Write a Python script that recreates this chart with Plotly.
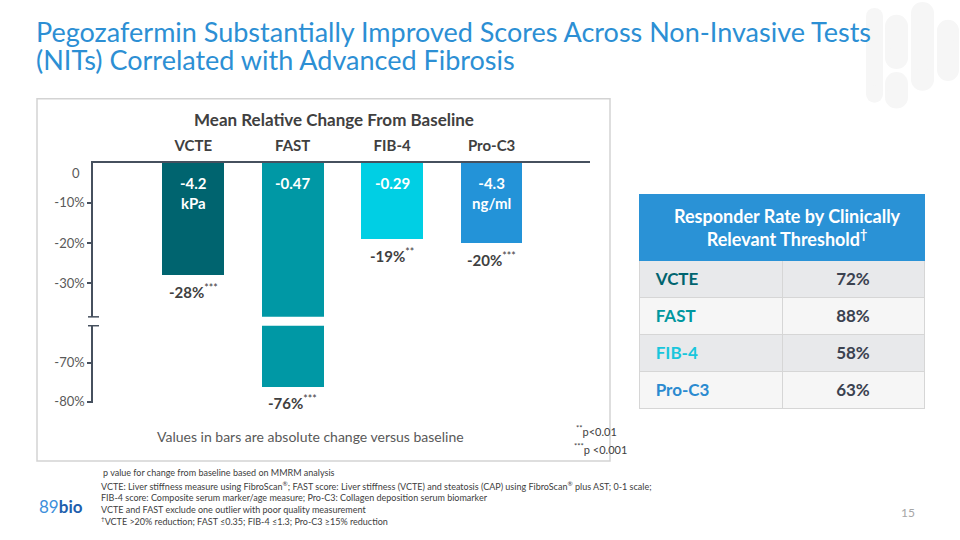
import plotly.graph_objects as go

# ---------------- data ----------------
categories = ["VCTE", "FAST", "FIB-4", "Pro-C3"]
rel_change = [-28, -76, -19, -20]          # mean relative change from baseline (%)
significance = ["***", "***", "**", "***"]
abs_change = ["-4.2<br>kPa", "-0.47", "-0.29", "-4.3<br>ng/ml"]
upper_ticks = [-10, -20, -30]
upper_tick_text = ["-10%", "-20%", "-30%"]
lower_ticks = [-70, -80]
lower_tick_text = ["-70%", "-80%"]
responder_tests = ["VCTE", "FAST", "FIB-4", "Pro-C3"]
responder_rates = ["72%", "88%", "58%", "63%"]

# ---------------- style ----------------
W, H = 960, 540
FONT = "Lato"
bar_colors = ["#00646F", "#0098A5", "#00CFE4", "#2393D8"]
label_colors = ["#00646F", "#00979F", "#19C6DC", "#2A8AD0"]
title_blue = "#2C8FD4"
hdr_blue = "#2A92D6"
axis_col = "#46505E"
text_dark = "#404040"


def px(x):
    return x / W


def py(y):
    return 1 - y / H


UP_RANGE = [-38.45, 0]
LO_RANGE = [-80.2, -60.5]

fig = go.Figure()
for yax in ["y", "y2"]:
    fig.add_trace(go.Bar(
        x=categories, y=rel_change, xaxis="x", yaxis=yax,
        marker=dict(color=bar_colors, line=dict(width=0)),
        width=0.62, hoverinfo="skip", showlegend=False,
    ))

# ---------------- table ----------------
row_fills = ["#E8E9EB", "#F6F6F6", "#E8E9EB", "#F6F6F6"]
fig.add_trace(go.Table(
    domain=dict(x=[px(639), px(924)], y=[py(470), py(197)]),
    columnwidth=[143, 142],
    header=dict(values=["", ""], fill_color=hdr_blue,
                line=dict(color=hdr_blue, width=1), height=66),
    cells=dict(
        values=[["\u00a0\u00a0<b>" + t + "</b>" for t in responder_tests],
                ["<b>" + r + "</b>" for r in responder_rates]],
        fill=dict(color=[row_fills, row_fills]),
        line=dict(color="#D6D6D6", width=1),
        align=["left", "center"],
        font=dict(family=FONT, size=17,
                  color=[label_colors, ["#3B4250"] * 4]),
        height=32,
    ),
))

annotations = []
shapes = []


def note(x, y, text, size, color, xanchor="center", **kw):
    d = dict(x=px(x), y=py(y), xref="paper", yref="paper", text=text,
             showarrow=False, xanchor=xanchor, yanchor="middle",
             font=dict(family=FONT, size=size, color=color))
    d.update(kw)
    return d


# header text
annotations.append(note(787, 230,
                        "<b>Responder Rate by Clinically<br>Relevant Threshold<sup>†</sup></b>",
                        18, "white"))

# in-bar absolute change values
for c, t in zip(categories, abs_change):
    annotations.append(dict(
        x=c, y=0, xref="x", yref="y", text="<b>" + t + "</b>",
        showarrow=False, xanchor="center", yanchor="top", yshift=-9,
        font=dict(family=FONT, size=15, color="white")))

# percent labels below bars
for c, v, s in zip(categories, rel_change, significance):
    yref = "y" if v >= UP_RANGE[0] else "y2"
    annotations.append(dict(
        x=c, y=v, xref="x", yref=yref,
        text="<b>%d%%</b><sup>%s</sup>" % (v, s),
        showarrow=False, xanchor="center", yanchor="top", yshift=-5,
        font=dict(family=FONT, size=15, color=text_dark)))

# zero label (drawn slightly below axis line as in reference)
annotations.append(dict(
    x=px(82), y=0, xref="paper", yref="y", text="0", showarrow=False,
    xanchor="right", yanchor="middle", yshift=-10,
    font=dict(family=FONT, size=13, color="#595959")))

# chart texts
annotations += [
    note(334, 121, "<b>Mean Relative Change From Baseline</b>", 17, text_dark),
    note(310, 442, "Values in bars are absolute change versus baseline", 14, "#595959"),
    note(574, 436, "<sup>**</sup>p&lt;0.01", 11, text_dark, xanchor="left"),
    note(572, 454, "<sup>***</sup>p &lt;0.001", 11, text_dark, xanchor="left"),
]

# slide title
annotations += [
    note(34, 32, "Pegozafermin Substantially Improved Scores Across Non-Invasive Tests",
         27, title_blue, xanchor="left"),
    note(34, 60, "(NITs) Correlated with Advanced Fibrosis", 27, title_blue, xanchor="left"),
]

# footnotes
foot = [
    (101, 479, "p value for change from baseline based on MMRM analysis"),
    (99, 492, "VCTE: Liver stiffness measure using FibroScan<sup>®</sup>; FAST score: Liver stiffness (VCTE) and steatosis (CAP) using FibroScan<sup>®</sup> plus AST; 0-1 scale;"),
    (99, 504, "FIB-4 score: Composite serum marker/age measure; Pro-C3: Collagen deposition serum biomarker"),
    (99, 516, "VCTE and FAST exclude one outlier with poor quality measurement"),
    (99, 528, "<sup>†</sup>VCTE &gt;20% reduction; FAST ≤0.35; FIB-4 ≤1.3; Pro-C3 ≥15% reduction"),
]
for x, y, t in foot:
    annotations.append(note(x, y, t, 9, text_dark, xanchor="left"))

# logo and page number
annotations += [
    note(37, 513, "<span style='color:#3D8FDB'>89</span><span style='color:#1F5FAE'><b>bio</b></span>",
         17, "#3D8FDB", xanchor="left"),
    note(908, 519, "15", 12, "#A6A6A6"),
]

# chart frame
shapes.append(dict(type="rect", xref="paper", yref="paper",
                   x0=px(37), x1=px(610), y0=py(467), y1=py(100),
                   line=dict(color="#D3D3D3", width=1.5), layer="below"))
# axis break caps
for yy in [321, 330]:
    shapes.append(dict(type="line", xref="paper", yref="paper",
                       x0=px(88), x1=px(99), y0=py(yy), y1=py(yy),
                       line=dict(color=axis_col, width=1.5)))


# faint watermark pills (top right)
def pill(x0, x1, y0, y1, col="#F6F6F6"):
    r = (x1 - x0) / 2
    out = [dict(type="rect", xref="paper", yref="paper", x0=px(x0), x1=px(x1),
                y0=py(y1 - r), y1=py(y0 + r), fillcolor=col, line=dict(width=0), layer="below")]
    for cy in (y0 + r, y1 - r):
        out.append(dict(type="circle", xref="paper", yref="paper", x0=px(x0), x1=px(x1),
                        y0=py(cy + r), y1=py(cy - r), fillcolor=col, line=dict(width=0), layer="below"))
    return out


for p in [(866, 883, 8, 104), (885, 908, 15, 70), (885, 908, 73, 110),
          (911, 934, 2, 92), (937, 959, 20, 82)]:
    shapes += pill(*p)

fig.update_layout(
    width=W, height=H, margin=dict(l=0, r=0, t=0, b=0),
    paper_bgcolor="white", plot_bgcolor="rgba(0,0,0,0)",
    font=dict(family=FONT, color=text_dark),
    showlegend=False, bargap=0,
    xaxis=dict(domain=[px(93), px(590)], range=[-1.009, 3.99], anchor="y",
               side="top", showline=True, linecolor=axis_col, linewidth=1.5,
               ticks="", showgrid=False, zeroline=False, fixedrange=True,
               tickfont=dict(family=FONT, size=15, color=text_dark, weight="bold"),
               ticklabelstandoff=4),
    yaxis=dict(domain=[py(321), py(165)], range=UP_RANGE, anchor="x",
               showline=True, linecolor=axis_col, linewidth=1.5,
               ticks="outside", ticklen=4, tickcolor=axis_col, tickwidth=1.5,
               tickvals=upper_ticks, ticktext=upper_tick_text,
               tickfont=dict(family=FONT, size=13, color="#595959"),
               showgrid=False, zeroline=False, fixedrange=True),
    yaxis2=dict(domain=[py(408), py(330)], range=LO_RANGE, anchor="x",
                showline=True, linecolor=axis_col, linewidth=1.5,
                ticks="outside", ticklen=4, tickcolor=axis_col, tickwidth=1.5,
                tickvals=lower_ticks, ticktext=lower_tick_text,
                tickfont=dict(family=FONT, size=13, color="#595959"),
                showgrid=False, zeroline=False, fixedrange=True),
    annotations=annotations, shapes=shapes,
)

fig.write_html("out.html", config={"displayModeBar": False},
               post_script="document.body.style.margin='0';")
